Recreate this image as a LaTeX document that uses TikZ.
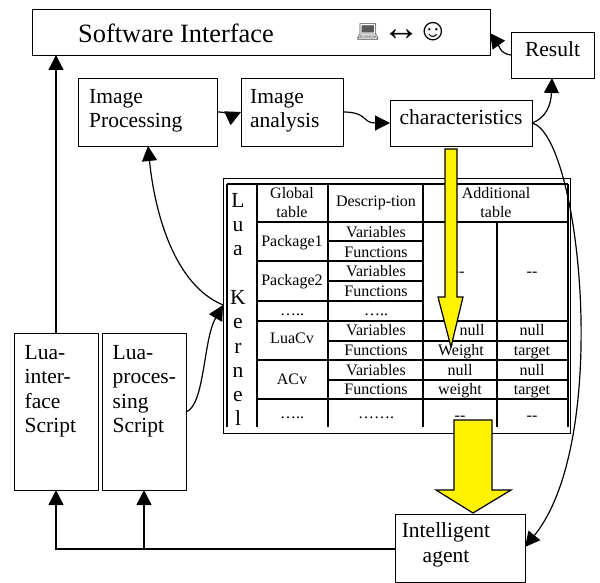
\documentclass[tikz,border=0pt]{standalone}
\usepackage{fontspec}
\setmainfont{Liberation Serif}
\newfontfamily\emojifont{Noto Emoji}
\usetikzlibrary{arrows.meta}
\tikzset{
  x=1pt,y=-1pt,
  box/.style={draw=black,line width=1.4pt,fill=white,inner sep=0pt,anchor=north west},
  conn/.style={draw=black,line width=1.3pt,-{Triangle[length=15pt,width=15pt]}},
  thinconn/.style={draw=black,line width=1.2pt,-{Triangle[length=15pt,width=15pt]}},
  cell/.style={font=\fontsize{16}{19}\selectfont,inner sep=0pt,align=center,text height=11pt,text depth=3pt},
  grid/.style={draw=black,line width=1.3pt},
  yarrow/.style={draw=black,line width=1.2pt,fill=yellow,line join=miter},
  txt/.style={inner sep=0pt,anchor=north west,align=left,font=\fontsize{21.5}{24.5}\selectfont},
}
\begin{document}
\begin{tikzpicture}
\useasboundingbox (0,0) rectangle (600,583);
% boxes
\node[box,minimum width=458pt,minimum height=46pt] (sw) at (32,9) {};
\node[txt,anchor=west,font=\fontsize{26.4}{30}\selectfont] (swt) at (78,33) {Software Interface};
\node[inner sep=0pt,anchor=center,font=\emojifont\fontsize{19}{24}\selectfont,text=black!65] (swa) at (368,32) {\symbol{"1F4BB}};
\node[inner sep=0pt,anchor=center,font=\fontsize{38}{40}\selectfont] (swb) at (401,35) {↔};
\node[inner sep=0pt,anchor=center,font=\fontsize{31}{34}\selectfont] (swc) at (433,32) {☺};
\node[box,minimum width=83pt,minimum height=46pt] (res) at (511,32) {};
\node[txt,anchor=center] (rest) at (552.5,49) {Result};
\node[box,minimum width=139pt,minimum height=68pt] (ip) at (78,78) {};
\node[txt] (ipt) at (89,89) {Image\\Processing};
\node[box,minimum width=102pt,minimum height=68pt] (ia) at (241,78) {};
\node[txt] (iat) at (250,89) {Image\\analysis};
\node[box,minimum width=142pt,minimum height=46pt] (ch) at (390,100) {};
\node[txt,anchor=center] (cht) at (461,117) {characteristics};
\node[box,minimum width=84pt,minimum height=157pt] (li) at (14,333) {};
\node[txt] (lit) at (24.5,345) {Lua-\\inter-\\face\\Script};
\node[box,minimum width=84pt,minimum height=157pt] (lp) at (102,333) {};
\node[txt] (lpt) at (112.5,345) {Lua-\\proces-\\sing\\Script};
\node[box,minimum width=130pt,minimum height=68pt] (ag) at (395,514) {};
\node[txt,anchor=center,align=center] (agt) at (446,545) {Intelligent\\agent};
% kernel table
\node[draw=black,line width=1pt,fill=white,inner sep=0pt,anchor=north west,minimum width=347pt,minimum height=255pt] (lk) at (223,178) {};
\draw[grid] (227,184) -- (568,184) (568,184) -- (568,427) (227,184) -- (227,427);
\draw[grid] (257,184) -- (257,427) (328,184) -- (328,427) (423,184) -- (423,427);
\draw[grid] (497,222) -- (497,427);
\draw[grid] (257,222) -- (568,222);
\draw[grid] (328,241) -- (423,241);
\draw[grid] (257,261) -- (423,261);
\draw[grid] (328,281) -- (423,281);
\draw[grid] (257,301) -- (423,301);
\draw[grid] (257,321) -- (568,321);
\draw[grid] (328,341) -- (568,341);
\draw[grid] (257,360) -- (568,360);
\draw[grid] (328,380) -- (568,380);
\draw[grid] (257,399) -- (568,399);
\node[inner sep=0pt,align=center,font=\fontsize{21.5}{24.3}\selectfont,anchor=north] (lkt) at (238,193) {L\\u\\a\\[0pt]\mbox{}\\K\\e\\r\\n\\e\\l};
\foreach \n/\x/\y/\t in {
 a1/292/194/{Global}, a1b/292/213/{table}, a2/376/203/{Descrip-tion}, a3/496/194/{Additional},a3b/496/213/{table},
 b1/292/242/{Package1}, b2/292/281/{Package2}, b3/292/311/{…..}, b4/292/339/{LuaCv}, b5/292/380/{ACv}, b6/292/414/{…..},
 c1/376/233/{Variables}, c2/376/253/{Functions}, c3/376/272/{Variables}, c4/376/292/{Functions}, c5/376/311/{…..},
 c6/376/331/{Variables}, c7/376/351/{Functions}, c8/376/371/{Variables}, c9/376/390/{Functions}, c10/376/414/{…….},
 d1/459/272/{-{}-}, e1/532/272/{-{}-}, d2/472/331/{null}, e2/532/331/{null}, d3/461/351/{Weight}, e3/532/351/{target},
 d4/460/371/{null}, e4/532/371/{null}, d5/460/390/{weight}, e5/532/390/{target}, d6/460/416/{-{}-}, e6/532/416/{-{}-}}
 {\node[cell] (\n) at (\x,\y) {\t};}
% connectors
\coordinate (j1) at (56,549);
\coordinate (j2) at (144,549);
\draw[conn] (56,333) -- (56,55);
\draw[conn] (395,549) -- (j1) -- (56,490);
\draw[conn] (j2) -- (144,490);
\draw[thinconn] (186,412) .. controls (205,405) and (203,340) .. (223,305);
\draw[thinconn] (223,305) .. controls (175,285) and (155,215) .. (148,146);
\draw[thinconn] (217,112) .. controls (233,112) and (228,118) .. (241,112);
\draw[thinconn] (343,112) .. controls (368,112) and (362,123) .. (390,123);
\draw[thinconn] (532,123) .. controls (546,118) and (551,105) .. (552,78);
\draw[thinconn] (511,55) .. controls (500,54) and (498,44) .. (490,33);
\draw[thinconn] (532,123) .. controls (580,135) and (612,440) .. (525,547);
% yellow arrows
\draw[yarrow] (445,149) -- (457,149) -- (457,297) -- (463,297) -- (451,347) -- (438,297) -- (445,297) -- cycle;
\draw[yarrow] (454,420) -- (492,420) -- (492,490) -- (511,490) -- (473,513) -- (436,490) -- (454,490) -- cycle;
\end{tikzpicture}
\end{document}
